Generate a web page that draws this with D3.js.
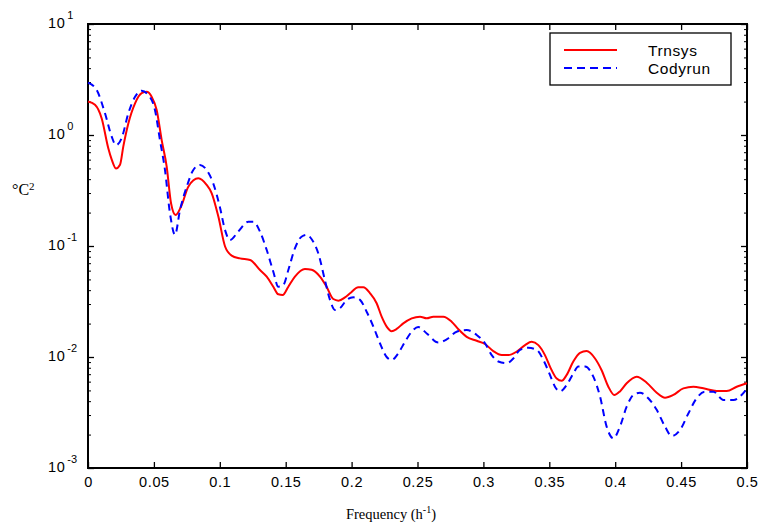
<!DOCTYPE html>
<html>
<head>
<meta charset="utf-8">
<script src="https://cdn.jsdelivr.net/npm/d3@7"></script>
<style>
  html, body { margin: 0; padding: 0; background: #fff; }
  .tick text { font-family: "Liberation Sans", Arial, sans-serif; font-size: 14.5px; letter-spacing: 0.6px; fill: #000; }
</style>
</head>
<body>
<div id="chart"></div>
<script>
const width = 758;
const height = 523;
const margin = { top: 24, right: 11, bottom: 55, left: 88 };

// Trnsys (red, solid)
const trnsysFreq = [0, 0.0053, 0.0104, 0.0154, 0.018, 0.0212, 0.0243, 0.0268, 0.0306, 0.0357, 0.0407, 0.0445, 0.0483, 0.0521, 0.0559, 0.0597, 0.063, 0.0665, 0.0711, 0.0761, 0.0837, 0.09, 0.0938, 0.0989, 0.104, 0.109, 0.1153, 0.123, 0.1305, 0.1356, 0.1406, 0.1444, 0.1477, 0.152, 0.157, 0.1646, 0.1697, 0.176, 0.181, 0.1861, 0.19, 0.195, 0.1988, 0.2051, 0.2089, 0.214, 0.219, 0.2228, 0.2266, 0.2304, 0.2342, 0.2392, 0.2456, 0.2519, 0.257, 0.262, 0.2696, 0.2759, 0.281, 0.2873, 0.2949, 0.3012, 0.3075, 0.3139, 0.3189, 0.3253, 0.3316, 0.3366, 0.3417, 0.3467, 0.3505, 0.3556, 0.3594, 0.3632, 0.3682, 0.3733, 0.3783, 0.3847, 0.3897, 0.3948, 0.3993, 0.4036, 0.4087, 0.4163, 0.4239, 0.4315, 0.4378, 0.4441, 0.4517, 0.4593, 0.4669, 0.477, 0.4846, 0.4922, 0.5];
const trnsysVal = [2.0, 1.87, 1.41, 0.76, 0.6, 0.5, 0.54, 0.79, 1.27, 1.93, 2.38, 2.45, 2.21, 1.68, 0.9, 0.52, 0.243, 0.19, 0.234, 0.342, 0.407, 0.355, 0.3, 0.184, 0.099, 0.082, 0.0774, 0.0748, 0.0608, 0.053, 0.043, 0.0367, 0.0362, 0.043, 0.053, 0.062, 0.061, 0.053, 0.043, 0.0333, 0.0322, 0.0345, 0.0375, 0.0425, 0.0425, 0.0375, 0.0305, 0.0231, 0.0188, 0.0171, 0.0179, 0.0201, 0.0223, 0.0231, 0.0223, 0.0231, 0.0231, 0.0208, 0.0178, 0.0152, 0.014, 0.0131, 0.0113, 0.0104, 0.0104, 0.0112, 0.0128, 0.0137, 0.0128, 0.0104, 0.0082, 0.0064, 0.0061, 0.0069, 0.0091, 0.0109, 0.0113, 0.0097, 0.0076, 0.0054, 0.00455, 0.0049, 0.0058, 0.00665, 0.00587, 0.00477, 0.0043, 0.00455, 0.00522, 0.0054, 0.00522, 0.00494, 0.00494, 0.0054, 0.0058];

// Codyrun (blue, dashed)
const codyrunFreq = [0, 0.0066, 0.0129, 0.018, 0.0212, 0.0255, 0.0306, 0.0357, 0.0407, 0.0458, 0.0508, 0.0546, 0.0584, 0.0622, 0.066, 0.0698, 0.0749, 0.0799, 0.085, 0.09, 0.095, 0.1, 0.104, 0.1077, 0.114, 0.1217, 0.1254, 0.1305, 0.1356, 0.1406, 0.1444, 0.1482, 0.152, 0.157, 0.162, 0.1659, 0.1697, 0.1747, 0.1798, 0.1836, 0.1874, 0.1912, 0.1963, 0.2013, 0.2064, 0.2114, 0.2165, 0.2215, 0.2266, 0.2304, 0.2354, 0.2405, 0.2456, 0.2506, 0.257, 0.2658, 0.2721, 0.2797, 0.2873, 0.2949, 0.3012, 0.3063, 0.3113, 0.3177, 0.3227, 0.3278, 0.3341, 0.3404, 0.3455, 0.3505, 0.3543, 0.3581, 0.3632, 0.3682, 0.372, 0.3771, 0.3834, 0.3885, 0.3935, 0.3986, 0.4036, 0.4087, 0.4138, 0.4188, 0.4251, 0.4315, 0.4378, 0.4429, 0.4492, 0.4555, 0.4618, 0.4681, 0.4745, 0.4821, 0.4897, 0.5];
const codyrunVal = [2.96, 2.54, 1.57, 0.966, 0.81, 0.934, 1.57, 2.21, 2.51, 2.29, 1.68, 0.9, 0.484, 0.197, 0.126, 0.211, 0.342, 0.484, 0.537, 0.484, 0.367, 0.226, 0.139, 0.113, 0.135, 0.1655, 0.1655, 0.1346, 0.092, 0.0587, 0.043, 0.0446, 0.0608, 0.0953, 0.1213, 0.126, 0.115, 0.086, 0.049, 0.0327, 0.0265, 0.0275, 0.0327, 0.0345, 0.0327, 0.0256, 0.0188, 0.0133, 0.01, 0.0094, 0.0108, 0.0137, 0.0169, 0.0186, 0.0163, 0.0135, 0.0144, 0.0169, 0.0175, 0.0158, 0.0133, 0.0104, 0.0091, 0.0088, 0.0097, 0.0116, 0.0121, 0.0116, 0.0094, 0.0069, 0.0054, 0.0049, 0.0056, 0.0071, 0.0082, 0.0082, 0.00665, 0.0044, 0.00236, 0.00185, 0.00236, 0.00357, 0.00455, 0.00477, 0.00425, 0.00334, 0.00236, 0.00194, 0.0022, 0.0031, 0.00425, 0.00486, 0.00486, 0.0041, 0.0041, 0.0052];

const xTicks = [0, 0.05, 0.1, 0.15, 0.2, 0.25, 0.3, 0.35, 0.4, 0.45, 0.5];
const xTickLabels = ["0", "0.05", "0.1", "0.15", "0.2", "0.25", "0.3", "0.35", "0.4", "0.45", "0.5"];
const yDecades = [1e-3, 1e-2, 1e-1, 1, 10];
const yExponents = ["-3", "-2", "-1", "0", "1"];
const seriesNames = ["Trnsys", "Codyrun"];

const svg = d3
  .select("#chart")
  .append("svg")
  .attr("width", width)
  .attr("height", height)
  .attr("viewBox", `0 0 ${width} ${height}`);

const plotWidth = width - margin.left - margin.right;
const plotHeight = height - margin.top - margin.bottom;

const g = svg
  .append("g")
  .attr("transform", `translate(${margin.left},${margin.top})`);

const x = d3.scaleLinear().domain([0, 0.5]).range([0, plotWidth]);
const y = d3.scaleLog().domain([1e-3, 10]).range([plotHeight, 0]);

// bottom axis with inward ticks + labels
g.append("g")
  .attr("transform", `translate(0,${plotHeight})`)
  .call(
    d3.axisBottom(x)
      .tickValues(xTicks)
      .tickSizeInner(-6)
      .tickSizeOuter(0)
      .tickPadding(9)
      .tickFormat((d, i) => xTickLabels[i]),
  )
  .call((a) => a.select(".domain").remove())
  .call((a) => a.selectAll("line").attr("stroke-width", 1.3));

// top axis, ticks only
g.append("g")
  .call(d3.axisTop(x).tickValues(xTicks).tickSizeInner(-6).tickSizeOuter(0).tickFormat(""))
  .call((a) => a.select(".domain").remove())
  .call((a) => a.selectAll("line").attr("stroke-width", 1.3));

// y minor + major ticks on both sides
const yMinor = y.ticks().filter((d) => !yDecades.includes(d));
[
  { axis: d3.axisLeft, tx: 0 },
  { axis: d3.axisRight, tx: plotWidth },
].forEach(({ axis, tx }) => {
  const side = g.append("g").attr("transform", `translate(${tx},0)`);
  side.append("g")
    .call(axis(y).tickValues(yMinor).tickSizeInner(-3).tickSizeOuter(0).tickFormat(""))
    .call((a) => a.select(".domain").remove());
  side.append("g")
    .call(axis(y).tickValues(yDecades).tickSizeInner(-6).tickSizeOuter(0).tickFormat(""))
    .call((a) => a.select(".domain").remove())
    .call((a) => a.selectAll("line").attr("stroke-width", 1.3));
});

// y tick labels as 10^n
const yLab = g.append("g")
  .attr("font-family", "Liberation Sans, Arial, sans-serif")
  .attr("fill", "#000");
yDecades.forEach((d, i) => {
  const t = yLab.append("text")
    .attr("x", -40)
    .attr("y", y(d) + 4)
    .attr("font-size", 14.5)
    .attr("letter-spacing", 0.6);
  t.append("tspan").text("10");
  t.append("tspan")
    .attr("dx", 2)
    .attr("dy", -9)
    .attr("font-size", 11)
    .attr("letter-spacing", 0)
    .text(yExponents[i]);
});

// frame
g.append("rect")
  .attr("width", plotWidth)
  .attr("height", plotHeight)
  .attr("fill", "none")
  .attr("stroke", "#000")
  .attr("stroke-width", 2);

const line = d3
  .line()
  .x((d) => x(d[0]))
  .y((d) => y(d[1]))
  .curve(d3.curveMonotoneX);

const trnsys = trnsysFreq.map((f, i) => [f, trnsysVal[i]]);
const codyrun = codyrunFreq.map((f, i) => [f, codyrunVal[i]]);

g.append("path")
  .datum(trnsys)
  .attr("fill", "none")
  .attr("stroke", "#ff0000")
  .attr("stroke-width", 2)
  .attr("d", line);

g.append("path")
  .datum(codyrun)
  .attr("fill", "none")
  .attr("stroke", "#0000ff")
  .attr("stroke-width", 2)
  .attr("stroke-dasharray", "7,5")
  .attr("d", line);

// legend
const leg = svg.append("g").attr("transform", "translate(550,33)");
leg.append("rect")
  .attr("width", 181)
  .attr("height", 52)
  .attr("fill", "#fff")
  .attr("stroke", "#000")
  .attr("stroke-width", 1.3);
[
  { color: "#ff0000", dash: null },
  { color: "#0000ff", dash: "8,5" },
].forEach((s, i) => {
  const ly = 17 + i * 18;
  leg.append("line")
    .attr("x1", 14)
    .attr("x2", 67)
    .attr("y1", ly)
    .attr("y2", ly)
    .attr("stroke", s.color)
    .attr("stroke-width", 2)
    .attr("stroke-dasharray", s.dash);
  leg.append("text")
    .attr("x", 98)
    .attr("y", ly + 5.5)
    .attr("font-family", "Liberation Sans, Arial, sans-serif")
    .attr("font-size", 15.5)
    .attr("letter-spacing", 0.6)
    .text(seriesNames[i]);
});

// axis titles
const yt = svg.append("text")
  .attr("x", 12)
  .attr("y", 195)
  .attr("font-family", "Liberation Serif, Times New Roman, serif")
  .attr("font-size", 16);
yt.append("tspan").text("°C");
yt.append("tspan").attr("dy", -5).attr("font-size", 11).text("2");

const xt = svg.append("text")
  .attr("x", 391)
  .attr("y", 519)
  .attr("text-anchor", "middle")
  .attr("font-family", "Liberation Serif, Times New Roman, serif")
  .attr("font-size", 14.5);
xt.append("tspan").text("Frequency (h");
xt.append("tspan").attr("dy", -6).attr("font-size", 10).text("-1");
xt.append("tspan").attr("dy", 6).text(")");
</script>
</body>
</html>
